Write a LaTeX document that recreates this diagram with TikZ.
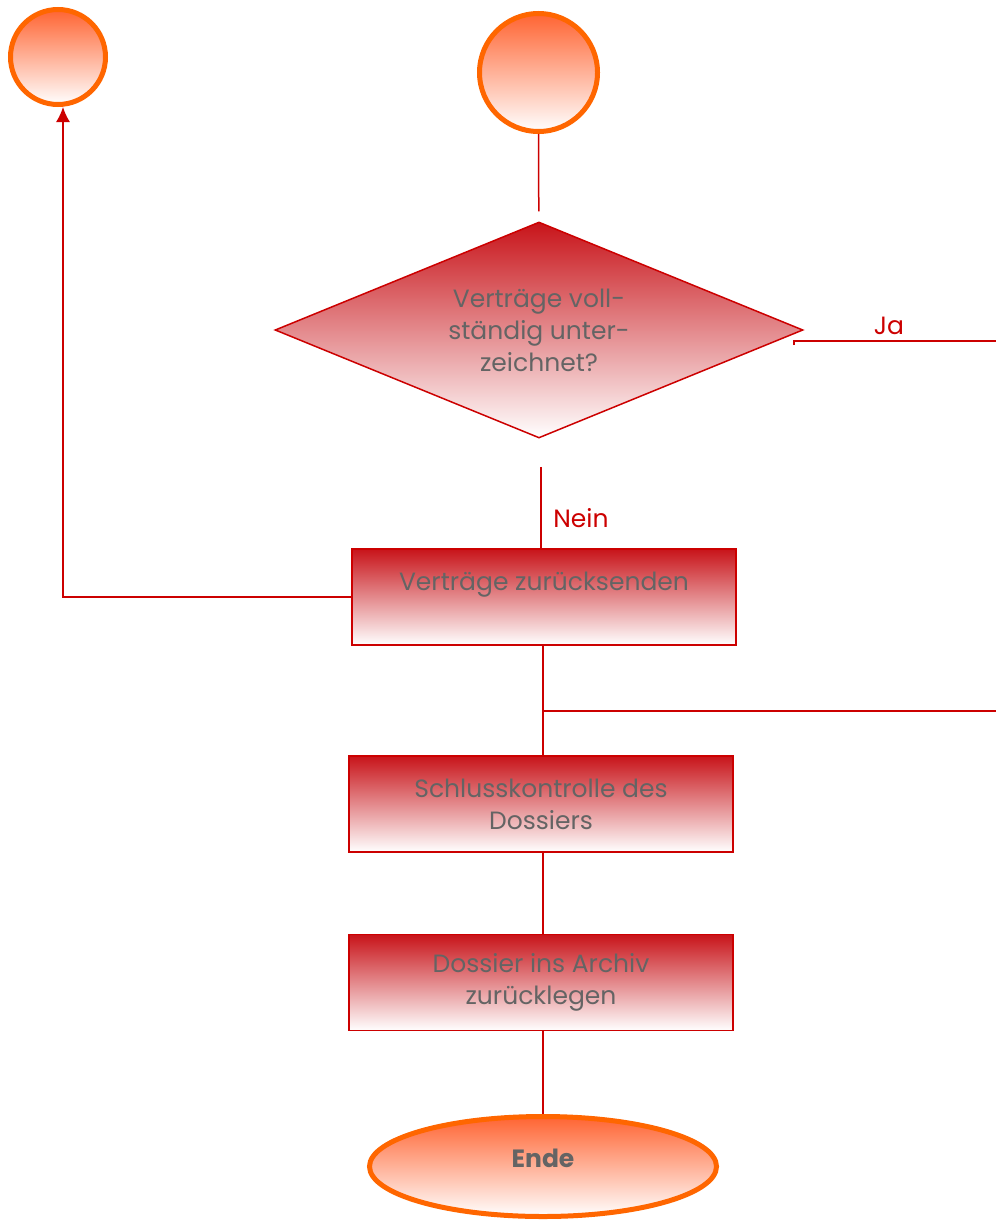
\documentclass[tikz,border=0pt]{standalone}
\usepackage{fontspec}
\setmainfont{Poppins}
\usepackage{tikz}
\definecolor{lred}{RGB}{204, 0, 0}
\definecolor{bred}{RGB}{200, 20, 26}
\definecolor{org}{RGB}{255, 102, 0}
\definecolor{orgtop}{RGB}{255, 100, 50}
\definecolor{txt}{RGB}{100, 100, 100}
\usetikzlibrary{positioning}
\usetikzlibrary{shapes.geometric}
\usetikzlibrary{arrows.meta}

\begin{document}
\begin{tikzpicture}[
  term/.style={circle, line width=5pt, draw=org, top color=orgtop, bottom color=white, inner sep=0pt},
  task/.style={rectangle, line width=1.5pt, draw=lred, top color=bred, bottom color=white, minimum width=384pt, minimum height=96pt, inner sep=0pt, align=center, text=txt, font=\fontsize{25}{32}\selectfont},
  line/.style={line width=1.5pt, color=lred}]
\useasboundingbox (0pt, 0pt) rectangle (996pt, -1223pt);
\node (1) [term, minimum size=95pt] at (58.0pt, -57.0pt) {};
\node (2) [term, minimum size=118pt] at (538.5pt, -72.5pt) {};
\node (3) [diamond, line width=1.5pt, draw=lred, top color=bred, bottom color=white, minimum width=528pt, minimum height=216pt, inner sep=0pt] at (539.0pt, -330.0pt) {};
\node (3t) [align=center, text=txt, font=\fontsize{25}{32}\selectfont] at (3) {Verträge voll-\\ständig unter-\\zeichnet?};
\node (4) [task] at (544.0pt, -597.0pt) {Verträge zurücksenden\\\phantom{X}};
\node (5) [task] at (541.0pt, -804.0pt) {Schlusskontrolle des\\Dossiers};
\node (6) [task] at (541.0pt, -982.5pt) {Dossier ins Archiv\\zurücklegen};
\node (7) [ellipse, line width=5pt, draw=org, top color=orgtop, bottom color=white, minimum width=347pt, minimum height=100pt, inner sep=0pt, text=txt, text depth=16pt, font=\fontsize{25}{32}\selectfont\bfseries] at (543.0pt, -1166.5pt) {Ende};
\coordinate (ja) at (996.0pt, -341.0pt);
\coordinate (split) at (543.0pt, -711.0pt);
\coordinate (out) at (996.0pt, -711.0pt);
\draw [line, shorten >=10pt] (2) to (3);
\draw [line] ([xshift=-10pt, yshift=-15pt]3.east) -- ++(0pt, 4pt) -- (ja);
\node (jalabel) [text=lred, font=\fontsize{25}{30}\selectfont] at (889.0pt, -326.0pt) {Ja};
\draw [line, shorten <=28pt] ([xshift=2pt]3.south) to ([xshift=2pt]3.south |- 4.north);
\node (neinlabel) [text=lred, font=\fontsize{25}{30}\selectfont] at (581.0pt, -518.0pt) {Nein};
\draw [line, -{Latex[length=15pt, width=14pt]}] (4.west) -| ([xshift=5pt]1.south);
\draw [line] (4.south -| split) to (5.north -| split);
\draw [line] (split) to (out);
\draw [line] (5.south -| split) to (6.north -| split);
\draw [line] (6.south -| split) to (7.north);
\end{tikzpicture}
\end{document}
